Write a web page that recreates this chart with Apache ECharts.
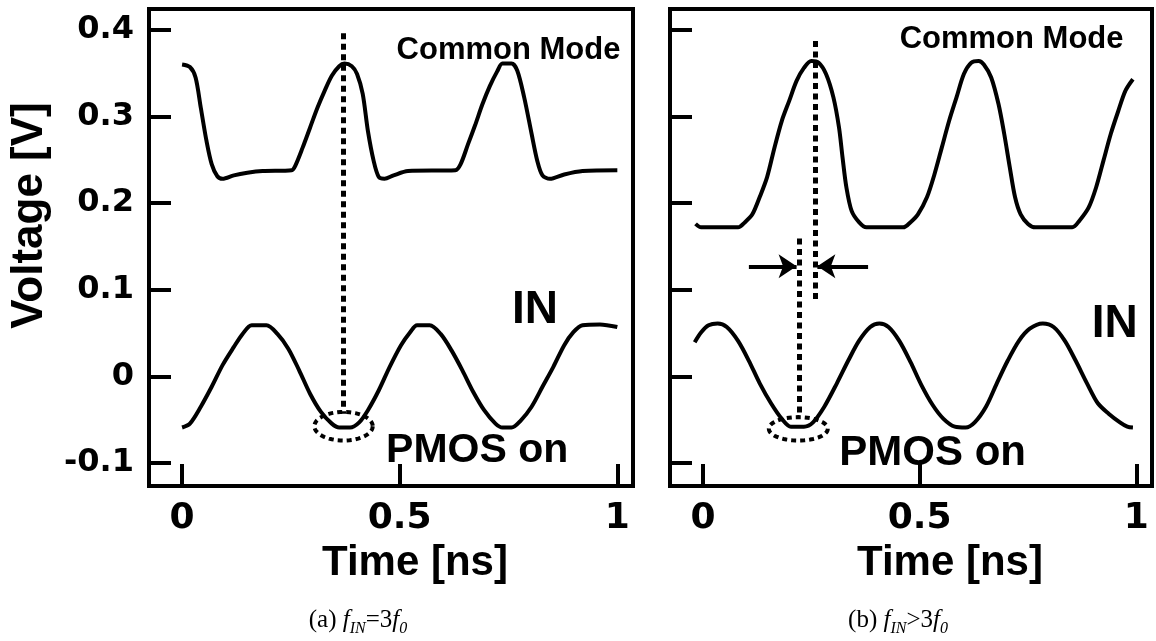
<!DOCTYPE html>
<html>
<head>
<meta charset="utf-8">
<script src="https://cdn.jsdelivr.net/npm/echarts@6/dist/echarts.min.js"></script>
<style>
  html, body { margin: 0; padding: 0; background: #fff; }
  #chart { width: 1156px; height: 641px; }
</style>
</head>
<body>
<div id="chart"></div>
<script>
// (a) f_IN = 3 f0
const cmTimeA = [0, 0.018, 0.031, 0.043, 0.056, 0.068, 0.081, 0.093, 0.119, 0.150, 0.185, 0.252, 0.260, 0.277, 0.294, 0.311, 0.327, 0.344, 0.361, 0.373, 0.390, 0.402, 0.415, 0.427, 0.440, 0.452, 0.465, 0.486, 0.519, 0.628, 0.640, 0.657, 0.674, 0.690, 0.707, 0.724, 0.736, 0.757, 0.770, 0.786, 0.803, 0.816, 0.828, 0.845, 0.878, 0.920, 1.000];
const cmVoltA = [0.360, 0.357, 0.345, 0.310, 0.272, 0.245, 0.231, 0.228, 0.232, 0.235, 0.237, 0.238, 0.243, 0.264, 0.287, 0.310, 0.329, 0.347, 0.358, 0.361, 0.358, 0.349, 0.326, 0.283, 0.249, 0.230, 0.228, 0.232, 0.237, 0.238, 0.245, 0.268, 0.291, 0.314, 0.335, 0.352, 0.361, 0.361, 0.353, 0.322, 0.280, 0.249, 0.232, 0.228, 0.233, 0.237, 0.238];
const inTimeA = [0, 0.018, 0.043, 0.068, 0.093, 0.119, 0.139, 0.160, 0.194, 0.219, 0.244, 0.269, 0.294, 0.319, 0.344, 0.361, 0.386, 0.407, 0.427, 0.452, 0.477, 0.503, 0.524, 0.540, 0.569, 0.594, 0.619, 0.644, 0.669, 0.694, 0.720, 0.736, 0.757, 0.778, 0.803, 0.828, 0.853, 0.878, 0.899, 0.920, 0.960, 1.000];
const inVoltA = [-0.059, -0.0545, -0.035, -0.012, 0.013, 0.034, 0.049, 0.059, 0.059, 0.049, 0.032, 0.007, -0.020, -0.041, -0.0545, -0.059, -0.059, -0.053, -0.039, -0.016, 0.011, 0.036, 0.051, 0.059, 0.059, 0.049, 0.030, 0.007, -0.018, -0.039, -0.0545, -0.059, -0.059, -0.051, -0.035, -0.012, 0.011, 0.036, 0.051, 0.059, 0.060, 0.057];

// (b) f_IN > 3 f0
const cmTimeB = [-0.017, -0.004, 0.081, 0.097, 0.114, 0.131, 0.148, 0.165, 0.182, 0.199, 0.216, 0.233, 0.250, 0.267, 0.284, 0.301, 0.314, 0.322, 0.331, 0.343, 0.360, 0.377, 0.462, 0.479, 0.496, 0.517, 0.534, 0.551, 0.568, 0.585, 0.602, 0.619, 0.636, 0.648, 0.665, 0.682, 0.695, 0.708, 0.720, 0.733, 0.750, 0.767, 0.852, 0.869, 0.890, 0.907, 0.924, 0.941, 0.958, 0.975, 0.992];
const cmVoltB = [0.176, 0.172, 0.172, 0.178, 0.187, 0.207, 0.230, 0.264, 0.295, 0.318, 0.341, 0.356, 0.364, 0.362, 0.349, 0.322, 0.287, 0.253, 0.218, 0.191, 0.178, 0.172, 0.172, 0.178, 0.187, 0.207, 0.233, 0.264, 0.295, 0.322, 0.349, 0.362, 0.364, 0.360, 0.345, 0.314, 0.280, 0.241, 0.207, 0.187, 0.176, 0.172, 0.172, 0.180, 0.195, 0.218, 0.249, 0.280, 0.306, 0.330, 0.343];
const inTimeB = [-0.019, -0.004, 0.013, 0.034, 0.055, 0.081, 0.106, 0.131, 0.157, 0.182, 0.203, 0.233, 0.254, 0.280, 0.309, 0.335, 0.360, 0.386, 0.407, 0.428, 0.453, 0.479, 0.504, 0.530, 0.555, 0.581, 0.606, 0.627, 0.653, 0.678, 0.703, 0.729, 0.754, 0.784, 0.809, 0.835, 0.860, 0.886, 0.911, 0.936, 0.962, 0.979, 0.992];
const inVoltB = [0.0395, 0.051, 0.059, 0.061, 0.057, 0.041, 0.018, -0.008, -0.031, -0.049, -0.058, -0.058, -0.053, -0.035, -0.008, 0.018, 0.041, 0.057, 0.061, 0.057, 0.041, 0.0165, -0.010, -0.033, -0.049, -0.058, -0.059, -0.053, -0.035, -0.008, 0.018, 0.041, 0.055, 0.061, 0.057, 0.041, 0.018, -0.008, -0.031, -0.043, -0.053, -0.058, -0.059];

const timeTicks = [0, 0.5, 1];
const voltTicks = [-0.1, 0, 0.1, 0.2, 0.3, 0.4];

const FONT = 'Liberation Sans, Arial, Helvetica, sans-serif';
const WIDE = 'DejaVu Sans, Liberation Sans, sans-serif';
const SERIF = 'Liberation Serif, Times New Roman, serif';
const zip = (xs, ys) => xs.map((x, i) => [x, ys[i]]);

const chart = echarts.init(document.getElementById('chart'));

function xAxisFor(gridIndex, shift) {
    return {
        type: 'value', gridIndex: gridIndex, min: -0.076, max: 1.036,
        axisLine: { show: false, onZero: false },
        splitLine: { show: false },
        axisTick: { customValues: timeTicks, inside: true, length: 22, lineStyle: { color: '#000', width: 4 } },
        axisLabel: {
            customValues: timeTicks, margin: 15, color: '#000', fontFamily: WIDE,
            fontSize: 36, fontWeight: 'bold', formatter: v => String(v)
        },
        name: 'Time [ns]', nameLocation: 'middle', nameGap: 56,
        nameTextStyle: { color: '#000', fontFamily: FONT, fontSize: 42, fontWeight: 'bold', padding: [0, 0, 0, shift] }
    };
}

function yAxisFor(gridIndex, withLabels) {
    return {
        type: 'value', gridIndex: gridIndex, min: -0.1265, max: 0.424,
        axisLine: { show: false, onZero: false },
        splitLine: { show: false },
        axisTick: { customValues: voltTicks, inside: true, length: 22, lineStyle: { color: '#000', width: 4 } },
        axisLabel: {
            show: withLabels, customValues: voltTicks, margin: 15, color: '#000', fontFamily: WIDE,
            fontSize: 32, fontWeight: 'bold', formatter: v => (v === 0 ? '0' : v.toFixed(1))
        },
        name: withLabels ? 'Voltage [V]' : '', nameLocation: 'middle', nameGap: 97,
        nameTextStyle: { color: '#000', fontFamily: FONT, fontSize: 44, fontWeight: 'bold', padding: [0, 0, 0, 64] }
    };
}

function curve(idx, data) {
    return {
        type: 'line', xAxisIndex: idx, yAxisIndex: idx, data: data,
        showSymbol: false, smooth: 0.3, silent: true,
        lineStyle: { color: '#000', width: 4 }
    };
}

function ellipseItem(params, api) {
    const c = api.coord([api.value(0), api.value(1)]);
    const s = api.size([api.value(2), api.value(3)]);
    const pts = [];
    for (let k = 0; k <= 60; k++) {
        const a = k / 60 * Math.PI * 2;
        pts.push([c[0] + s[0] * Math.cos(a), c[1] + s[1] * Math.sin(a)]);
    }
    return {
        type: 'polyline', shape: { points: pts },
        style: { stroke: '#000', lineWidth: 4, lineDash: [5, 4], fill: null }
    };
}

function ellipse(idx, data) {
    return {
        type: 'custom', xAxisIndex: idx, yAxisIndex: idx, silent: true,
        renderItem: ellipseItem, data: data, encode: { x: 0, y: 1 }
    };
}

const dotted = { color: '#000', width: 5, type: [6, 4.5] };

function texts(idx, items) {
    return {
        type: 'scatter', xAxisIndex: idx, yAxisIndex: idx, silent: true,
        symbolSize: 1, itemStyle: { color: 'rgba(0,0,0,0)', opacity: 1 },
        label: { show: true, position: 'inside', color: '#000', opacity: 1, fontFamily: FONT, fontWeight: 'bold' },
        data: items.map(d => ({ value: [d[0], d[1]], label: { formatter: d[2], fontSize: d[3] } }))
    };
}

function caption(x, text) {
    const base = { fontFamily: SERIF, fontSize: 25, lineHeight: 28, verticalAlign: 'bottom', padding: [0, 0, 4, 0], fill: '#000' };
    return {
        type: 'text', x: x, y: 623,
        style: {
            text: text, align: 'center', verticalAlign: 'middle',
            rich: {
                n: base,
                i: Object.assign({}, base, { fontStyle: 'italic' }),
                s: { fontFamily: SERIF, fontSize: 16, fontStyle: 'italic', lineHeight: 16, verticalAlign: 'bottom', fill: '#000' }
            }
        }
    };
}

const option = {
    animation: false,
    backgroundColor: '#fff',
    grid: [
        { left: 149, top: 9, width: 484, height: 477, show: true, borderColor: '#000', borderWidth: 4 },
        { left: 670, top: 9, width: 482, height: 477, show: true, borderColor: '#000', borderWidth: 4 }
    ],
    xAxis: [xAxisFor(0, 48), xAxisFor(1, 78)],
    yAxis: [yAxisFor(0, true), yAxisFor(1, false)],
    series: [
        Object.assign(curve(0, zip(cmTimeA, cmVoltA)), {
            markLine: {
                silent: true, symbol: 'none', label: { show: false }, lineStyle: dotted,
                data: [[{ coord: [0.371, 0.396] }, { coord: [0.371, -0.043] }]]
            }
        }),
        curve(0, zip(inTimeA, inVoltA)),
        ellipse(0, [[0.371, -0.0575, 0.067, 0.0165]]),
        texts(0, [[0.75, 0.376, 'Common Mode', 31], [0.811, 0.076, 'IN', 46], [0.678, -0.086, 'PMOS on', 41]]),

        Object.assign(curve(1, zip(cmTimeB, cmVoltB)), {
            markLine: {
                silent: true, symbol: 'none', label: { show: false }, lineStyle: dotted,
                data: [
                    [{ coord: [0.258, 0.387] }, { coord: [0.258, 0.084] }],
                    [{ coord: [0.222, 0.159] }, { coord: [0.222, -0.047] }]
                ]
            }
        }),
        Object.assign(curve(1, zip(inTimeB, inVoltB)), {
            markLine: {
                silent: true, symbol: ['none', 'arrow'], symbolSize: 18, label: { show: false },
                lineStyle: { color: '#000', width: 4, type: 'solid' },
                data: [
                    [{ coord: [0.106, 0.127] }, { coord: [0.216, 0.127] }],
                    [{ coord: [0.381, 0.127] }, { coord: [0.264, 0.127] }]
                ]
            }
        }),
        ellipse(1, [[0.22, -0.0605, 0.068, 0.0135]]),
        texts(1, [[0.712, 0.389, 'Common Mode', 31], [0.95, 0.060, 'IN', 46], [0.53, -0.089, 'PMOS on', 42]])
    ],
    graphic: [
        caption(358, '{n|(a) }{i|f}{s|IN}{n|=3}{i|f}{s|0}'),
        caption(898, '{n|(b) }{i|f}{s|IN}{n|>3}{i|f}{s|0}')
    ]
};

chart.setOption(option);
</script>
</body>
</html>
